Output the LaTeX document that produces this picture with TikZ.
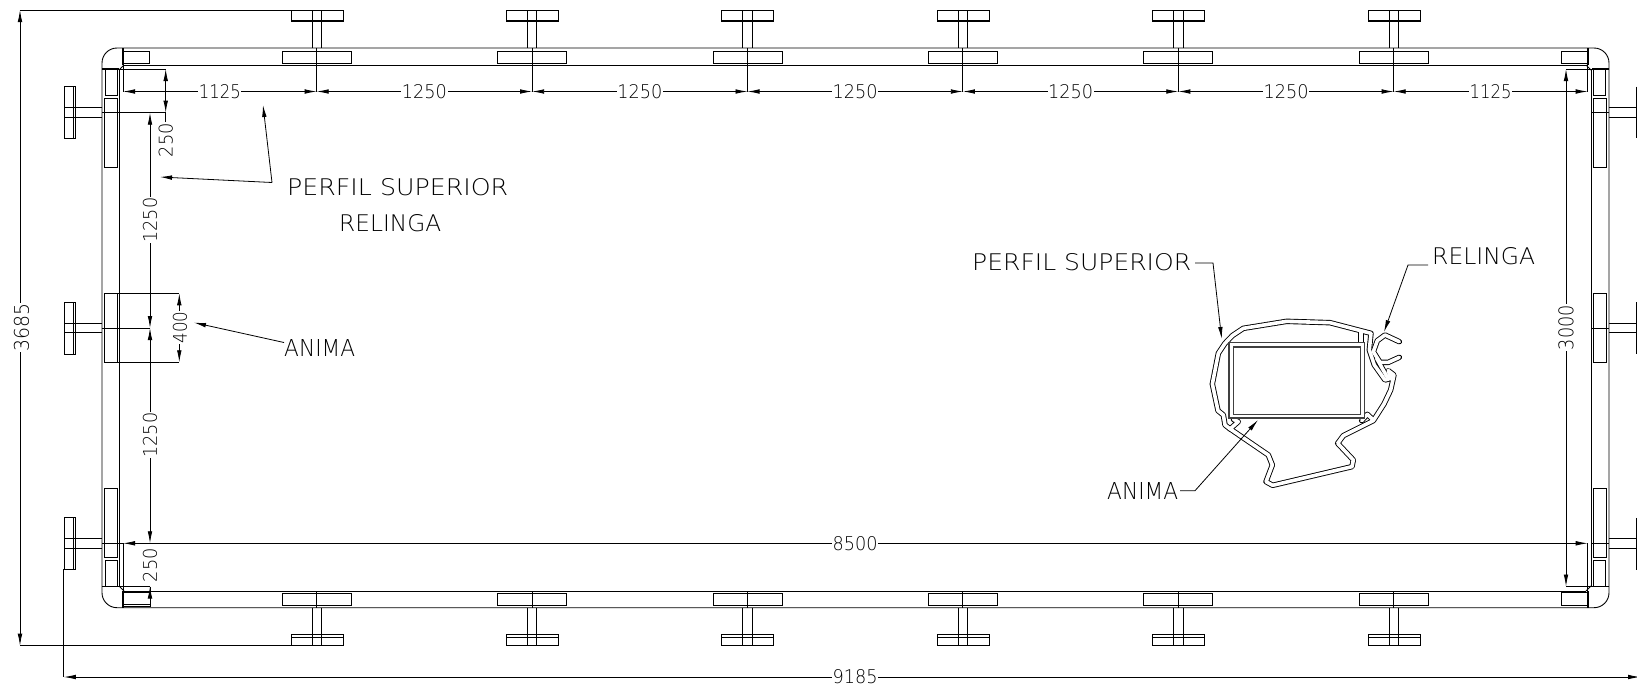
\documentclass[tikz,border=0pt]{standalone}
\usepackage{fontspec}
\usepackage{graphicx}
\setmainfont{DejaVu Sans ExtraLight}
\usetikzlibrary{arrows.meta}
\newcommand{\fitt}[3]{\resizebox{#1pt}{#2pt}{#3}}
\tikzset{
  ln/.style={line width=0.9pt,black},
  thick line/.style={line width=1.8pt,black},
  dim/.style={line width=0.8pt,black,{Latex[length=12pt,width=4.6pt]}-{Latex[length=12pt,width=4.6pt]}},
  tipend/.style={line width=0.8pt,black,-{Latex[length=12pt,width=4.6pt]}},
  lab/.style={inner sep=0pt,text=black},
  dimlab/.style={inner sep=0.6pt,fill=white,text=black},
  profile/.style={line width=5.4pt,black,line join=round,line cap=round},
  profileb/.style={line width=3.6pt,white,line join=round,line cap=round},
}
\begin{document}
\begin{tikzpicture}[x=1pt,y=-1pt]
\useasboundingbox (0,0) rectangle (1637,689);
% frame
\draw[ln,rounded corners=15pt] (102,48) rectangle (1609,607.7);
\draw[ln] (124,65) -- (1586,65);
\draw[ln] (124,591) -- (1586,591);
\draw[ln] (119,70) -- (119,586);
\draw[ln] (1591,70) -- (1591,586);
\draw[ln] (119,70) -- (124,65);
\draw[ln] (1591,70) -- (1586,65);
\draw[ln] (119,586) -- (124,591);
\draw[ln] (1591,586) -- (1586,591);
% corner blocks
\draw[ln] (123,51) rectangle (149,63);
\draw[ln] (1561.3,51) rectangle (1587.7,63);
\draw[ln] (123,592) rectangle (150,606);
\draw[ln] (123,604) -- (150,604);
\draw[ln] (1561.3,592.5) rectangle (1587.7,605.5);
\draw[thick line] (123,48) -- (123,65);
\draw[thick line] (1587.7,48) -- (1587.7,65);
\draw[thick line] (123,591) -- (123,608);
\draw[thick line] (1587.7,591) -- (1587.7,608);
\draw[thick line] (102,69) -- (119,69);
\draw[thick line] (1592,69) -- (1609,69);
\draw[thick line] (102,586.5) -- (119,586.5);
\draw[thick line] (1592,586.5) -- (1609,586.5);
% top and bottom T pieces
\foreach \c in {316.7,532.1,747.5,962.9,1178.3,1393.7}{
  \draw[ln] (\c-25.7,10) rectangle (\c+26.3,21);
  \draw[ln] (\c-25.7,20) -- (\c+26.3,20);
  \draw[ln] (\c-4.7,10) -- (\c-4.7,48);
  \draw[ln] (\c+4.7,10) -- (\c+4.7,48);
  \draw[ln] (\c-34.4,51) rectangle (\c+34.6,63);
  \draw[ln] (\c,48) -- (\c,91.5);
  \draw[ln] (\c-34.4,593.3) rectangle (\c+34.6,605.7);
  \draw[ln] (\c,591) -- (\c,607.7);
  \draw[ln] (\c-4.7,607.7) -- (\c-4.7,645.7);
  \draw[ln] (\c+4.7,607.7) -- (\c+4.7,645.7);
  \draw[ln] (\c-25.7,634.3) rectangle (\c+26.3,645.7);
  \draw[ln] (\c-25.7,637.5) -- (\c+26.3,637.5);
}
% left and right T pieces
\foreach \c/\t/\b in {112.4/98.3/167.5,328/293.3/362.3,543.5/488.3/557.7}{
  \draw[ln] (64,\c-25.7) rectangle (75.7,\c+26);
  \draw[ln] (64,\c-4.7) -- (102,\c-4.7);
  \draw[ln] (64,\c+4.7) -- (102,\c+4.7);
  \draw[ln] (73.5,\c-25.7) -- (73.5,\c+26);
  \draw[ln] (104.5,\t) rectangle (117,\b);
  \draw[ln] (1593.7,\t) rectangle (1606,\b);
  \draw[ln] (1609,\c-4.7) -- (1637,\c-4.7);
  \draw[ln] (1609,\c+4.7) -- (1637,\c+4.7);
  \draw[ln] (1636,\c-25.7) -- (1636,\c+26);
  \draw[ln] (1592,\c) -- (1609,\c);
}
\draw[ln] (105.5,69) rectangle (117.5,95.3);
\draw[ln] (105.5,560.7) rectangle (117.5,586);
\draw[ln] (1593.7,69) rectangle (1605.5,95.3);
\draw[ln] (1593.7,560.7) rectangle (1605.5,586);
% extension lines
\draw[ln] (102,69) -- (165.7,69);
\draw[ln] (102,112.7) -- (165.7,112.7);
\draw[ln] (123,65) -- (123,91.5);
\draw[ln] (1587.7,65) -- (1587.7,91.5);
\draw[ln] (1566,69) -- (1592,69);
\draw[ln] (1566,586.5) -- (1592,586.5);
\draw[ln] (104.5,293.3) -- (179.3,293.3);
\draw[ln] (104.5,362.3) -- (179.3,362.3);
\draw[ln] (102,328) -- (150,328);
\draw[ln] (102,543.3) -- (123,543.3);
\draw[ln] (1587.7,543.3) -- (1587.7,591);
\draw[ln] (123,543.3) -- (123,591);
\draw[ln] (119,586.5) -- (150,586.5);
\draw[ln] (150,586.5) -- (150,607);
\draw[ln] (20,10) -- (291,10);
\draw[ln] (20,645.7) -- (291,645.7);
\draw[ln] (63.8,569) -- (63.8,677);
% horizontal dimensions
\foreach \n/\a/\b/\w in {a/123/316.7/42,b/316.7/532.1/45,c/532.1/747.5/45,d/747.5/962.9/45,e/962.9/1178.3/45,f/1178.3/1393.7/45,g/1393.7/1587.7/42}{
  \path (\a,91.5) -- (\b,91.5) coordinate[pos=0] (\n1) coordinate[pos=1] (\n2) coordinate[pos=.5] (\n3);
  \draw[dim] (\n1) -- (\n2);
}
\node[dimlab] (da) at (a3) {\fitt{42}{14}{1125}};
\node[dimlab] (db) at (b3) {\fitt{45}{14}{1250}};
\node[dimlab] (dc) at (c3) {\fitt{45}{14}{1250}};
\node[dimlab] (dd) at (d3) {\fitt{45}{14}{1250}};
\node[dimlab] (de) at (e3) {\fitt{45}{14}{1250}};
\node[dimlab] (df) at (f3) {\fitt{45}{14}{1250}};
\node[dimlab] (dg) at (g3) {\fitt{42}{14}{1125}};
% overall dimensions
\draw[dim] (123,543.3) -- (1587.7,543.3);
\node[dimlab] (d8500) at (855,543.3) {\fitt{45}{14}{8500}};
\draw[dim] (63.8,677) -- (1640,677);
\node[dimlab] (d9185) at (855,677) {\fitt{45}{14}{9185}};
\draw[dim] (20,10) -- (20,645.7);
\node[dimlab,rotate=90] (d3685) at (21.5,327.5) {\fitt{48}{15}{3685}};
\draw[dim] (1566,69) -- (1566,586.5);
\node[dimlab,rotate=90] (d3000) at (1566,327.5) {\fitt{45}{15}{3000}};
\draw[dim] (150,112.7) -- (150,328);
\node[dimlab,rotate=90] (d1250a) at (150,220) {\fitt{45}{14}{1250}};
\draw[dim] (150,328) -- (150,543.3);
\node[dimlab,rotate=90] (d1250b) at (150,435) {\fitt{45}{14}{1250}};
\draw[dim] (165.7,69) -- (165.7,112.7);
\draw[ln] (165.7,112.7) -- (165.7,122);
\node[lab,rotate=90] (d250a) at (165.7,140) {\fitt{34}{14}{250}};
\draw[tipend] (150,597) -- (150,586.5);
\node[dimlab,rotate=90] (d250b) at (150,565) {\fitt{34}{14}{250}};
\draw[dim] (179.3,293.3) -- (179.3,362.3);
\node[dimlab,rotate=90] (d400) at (180,327.5) {\fitt{32}{14}{400}};
% left labels
\node[lab,anchor=west] (perfil1) at (287,187) {\fitt{221}{17}{PERFIL SUPERIOR}};
\node[lab,anchor=west] (relinga1) at (339,223) {\fitt{102}{17}{RELINGA}};
\node[lab,anchor=west] (anima1) at (284,347.5) {\fitt{71}{17}{ANIMA}};
\coordinate (jn) at (272,182.5);
\coordinate (t1) at (263,105);
\coordinate (t2) at (160,177);
\draw[tipend] (jn) -- (t1);
\draw[tipend] (jn) -- (t2);
\coordinate (t3) at (194,322.6);
\draw[tipend] (284,342.5) -- (t3);
% right labels
\node[lab,anchor=west] (perfil2) at (972,262) {\fitt{219}{17}{PERFIL SUPERIOR}};
\node[lab,anchor=west] (relinga2) at (1432,256) {\fitt{103}{17}{RELINGA}};
\node[lab,anchor=west] (anima2) at (1107,491) {\fitt{71}{17}{ANIMA}};
\draw[tipend] (1195,263) -- (1213,263) -- (1221.7,339);
\draw[tipend] (1428,265) -- (1408,265) -- (1384,332);
% section profile (coordinates in zoomed units)
\begin{scope}[shift={(1180,300)},x=0.3333pt,y=-0.3333pt]
  \foreach \st in {profile,profileb}{
    \draw[\st] (135,130) -- (157,107) -- (190,85) -- (320,64) -- (450,68) -- (573,100) -- (568,150) -- (583,195) -- (615,240) -- (632,235) -- (625,212) -- (642,225) -- (632,270) -- (612,312) -- (580,362) -- (490,407) -- (473,430) -- (520,480) -- (516,500) -- (278,556) -- (258,545) -- (277,495) -- (265,465) -- (148,385) -- (135,375) -- (130,345) -- (114,332) -- (97,252) -- (115,160) -- cycle;
    \draw[\st] (658,125) -- (615,105) -- (592,122) -- (580,155) -- (600,187) -- (625,187) -- (658,172);
    \draw[\st] (590,175) -- (622,232);
    \draw[\st] (543,98) -- (543,125);
    \draw[\st] (160,358) -- (175,365) -- (150,387);
    \draw[\st] (545,362) -- (562,343) -- (580,360);
  }
  \draw[line width=1.2pt,black!75,fill=white] (147,128) rectangle (554,354);
  \draw[line width=1.2pt,black!75] (160,141) rectangle (541,343);
\end{scope}
\draw[tipend] (1180,490.7) -- (1195,490.7) -- (1258,420);
\end{tikzpicture}
\end{document}
